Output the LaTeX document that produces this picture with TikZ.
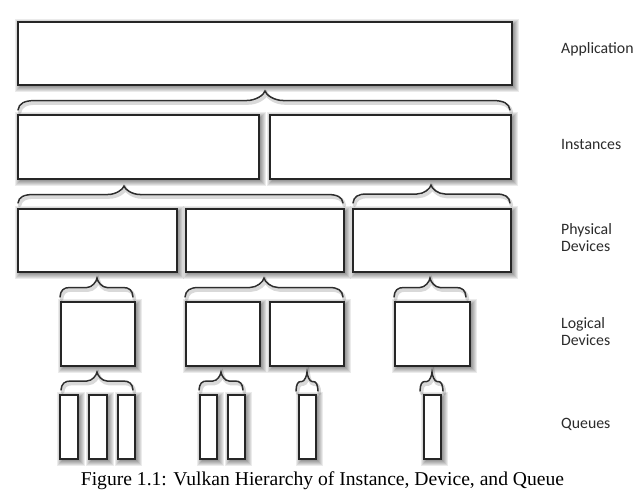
\documentclass[tikz,border=0pt]{standalone}
\usepackage{fontspec}
\setmainfont{Liberation Serif}
\newfontfamily\lblfont{Carlito}
\definecolor{boxc}{HTML}{262626}
\definecolor{bracec}{HTML}{2E2E2E}
\definecolor{labelc}{HTML}{2B2B2B}
\tikzset{
  qbox/.style={draw=boxc, fill=white, line width=1.7pt, inner sep=0pt, anchor=north west},
  brc/.style={draw=bracec, line width=1.5pt, line cap=round},
  brs/.style={draw=black, line width=3.5pt, opacity=0.15, line cap=round, shift={(1.5,2.5)}},
  lbl/.style={font=\lblfont\fontsize{15.8}{17}\selectfont, text=labelc, anchor=base west, align=left, inner sep=0pt},
  capt/.style={font=\fontsize{19.6}{22}\selectfont, text=black, anchor=base, inner sep=0pt}
}
% shadow of a box: L T R B
\newcommand\qshadow[4]{%
  \foreach \e in {0,1,2,3,4,5}{%
    \fill[black, opacity=0.08] ({#1+3-\e},{#2+3-\e}) rectangle ({#3+3+\e},{#4+3+\e});
  }%
}
% box node: name L T R B
\newcommand\qnode[5]{%
  \node[qbox, minimum width={(#4-#2)*1pt}, minimum height={(#5-#3)*1pt}] (#1) at (#2,#3) {};
}
% brace: style L R T yEnd yTip c
\newcommand\qbrace[7]{%
  \pgfmathsetmacro\ym{(#5+#6)/2}%
  \pgfmathsetmacro\de{#5-\ym}%
  \pgfmathsetmacro\dt{\ym-#6}%
  \draw[#1] (#2,#5) .. controls ({#2+0.05*#7},{\ym+0.3*\de}) and ({#2+0.35*#7},\ym) .. ({#2+#7},\ym)
    -- ({#4-#7},\ym) .. controls ({#4-0.5*#7},\ym) and ({#4-0.05*#7},{#6+0.4*\dt}) .. (#4,#6)
    .. controls ({#4+0.05*#7},{#6+0.4*\dt}) and ({#4+0.5*#7},\ym) .. ({#4+#7},\ym)
    -- ({#3-#7},\ym) .. controls ({#3-0.35*#7},\ym) and ({#3-0.05*#7},{\ym+0.3*\de}) .. (#3,#5);
}
\newcommand\allbraces[1]{%
  \qbrace{#1}{18}{510}{265}{110}{91}{18}
  \qbrace{#1}{18}{343}{124}{203}{186}{16}
  \qbrace{#1}{353}{510}{431}{203}{185}{14}
  \qbrace{#1}{60}{133}{97}{297}{278}{10}
  \qbrace{#1}{185}{343}{264}{297}{278}{14}
  \qbrace{#1}{394}{466}{430}{297}{278}{10}
  \qbrace{#1}{61}{133}{97}{390}{372}{10}
  \qbrace{#1}{199}{243}{221}{390}{372}{8}
  \qbrace{#1}{296}{318}{307}{391}{372}{5}
  \qbrace{#1}{420}{443}{432}{391}{372}{5}
}
\begin{document}
\begin{tikzpicture}[x=1pt,y=-1pt]
\useasboundingbox[fill=white] (0,0) rectangle (642,495);
% shadows
\qshadow{17}{21}{511}{84}
\qshadow{17}{114}{258}{178}
\qshadow{269}{114}{510}{178}
\qshadow{17}{208}{176}{271}
\qshadow{185}{208}{343}{271}
\qshadow{352}{208}{510}{271}
\qshadow{60}{301}{134}{365}
\qshadow{185}{301}{259}{365}
\qshadow{269}{301}{343}{365}
\qshadow{394}{301}{469}{365}
\qshadow{59}{394}{77}{458}
\qshadow{88}{394}{106}{458}
\qshadow{117}{394}{134}{458}
\qshadow{199}{394}{216}{458}
\qshadow{227}{394}{244}{458}
\qshadow{298}{394}{315}{458}
\qshadow{423}{394}{440}{458}
\allbraces{brs}
% boxes
\qnode{app}{17}{21}{511}{84}
\qnode{inst1}{17}{114}{258}{178}
\qnode{inst2}{269}{114}{510}{178}
\qnode{phys1}{17}{208}{176}{271}
\qnode{phys2}{185}{208}{343}{271}
\qnode{phys3}{352}{208}{510}{271}
\qnode{log1}{60}{301}{134}{365}
\qnode{log2}{185}{301}{259}{365}
\qnode{log3}{269}{301}{343}{365}
\qnode{log4}{394}{301}{469}{365}
\qnode{q1}{59}{394}{77}{458}
\qnode{q2}{88}{394}{106}{458}
\qnode{q3}{117}{394}{134}{458}
\qnode{q4}{199}{394}{216}{458}
\qnode{q5}{227}{394}{244}{458}
\qnode{q6}{298}{394}{315}{458}
\qnode{q7}{423}{394}{440}{458}
% braces
\allbraces{brc}
% labels
\node[lbl] (lapp) at (561,54) {Application};
\node[lbl] (linst) at (561,149) {Instances};
\node[lbl] (lphys) at (561,251) {Physical\\Devices};
\node[lbl] (llog) at (561,345) {Logical\\Devices};
\node[lbl] (lq) at (561,428) {Queues};
\node[capt] (cap) at (322.5,485) {Figure 1.1: Vulkan Hierarchy of Instance, Device, and Queue};
\end{tikzpicture}
\end{document}
